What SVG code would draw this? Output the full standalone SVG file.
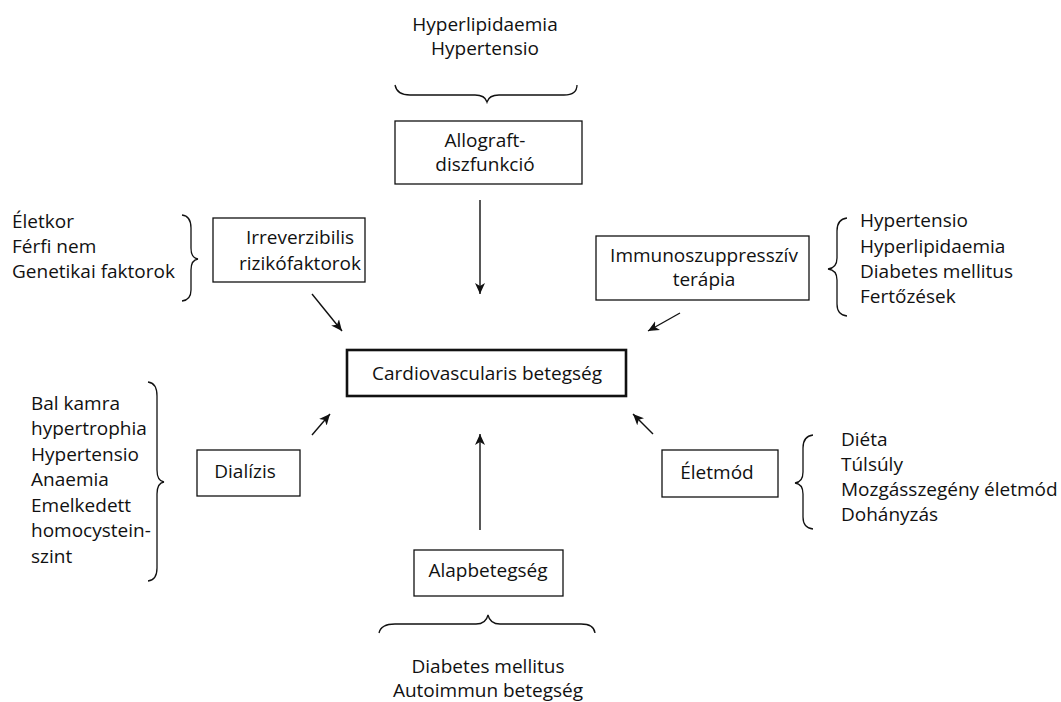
<svg xmlns="http://www.w3.org/2000/svg" width="1061" height="702" viewBox="0 0 1061 702">
<style>
text{font-family:"Open Sans","Noto Sans","Liberation Sans",sans-serif;font-size:19px;fill:#111;}
.c{text-anchor:middle;}
.box{fill:#fff;stroke:#111;stroke-width:1.3;}
.main{fill:#fff;stroke:#111;stroke-width:2.6;}
.br{fill:none;stroke:#111;stroke-width:1.3;}
.ar{fill:none;stroke:#111;stroke-width:1.4;marker-end:url(#ah);}
</style>
<defs>
<marker id="ah" markerUnits="userSpaceOnUse" markerWidth="12" markerHeight="11" refX="11" refY="5.5" orient="auto">
<path d="M0,0.5 L11,5.5 L0,10.5 L3,5.5 z" fill="#111"/>
</marker>
</defs>
<rect width="1061" height="702" fill="#fff"/>

<g id="top-factors">
<text class="c" x="485" y="31">Hyperlipidaemia</text>
<text class="c" x="485" y="55">Hypertensio</text>
<path class="br" d="M395,85 Q397,95 410,95 L475,95 Q485,95 487,102 Q489,95 499,95 L564,95 Q577,95 577,85"/>
</g>

<g id="allograft">
<rect class="box" x="395" y="121" width="187" height="63"/>
<text class="c" x="485" y="147">Allograft-</text>
<text class="c" x="485" y="171">diszfunkció</text>
</g>

<g id="irreverzibilis">
<text x="12" y="228">Életkor</text>
<text x="12" y="253">Férfi nem</text>
<text x="12" y="278">Genetikai faktorok</text>
<path class="br" d="M182,215 Q191,216 191,228 L191,248 Q191,258 198,259 Q191,260 191,270 L191,290 Q191,300 182,301"/>
<rect class="box" x="213" y="218" width="152" height="64"/>
<text class="c" x="300" y="244">Irreverzibilis</text>
<text class="c" x="300" y="270">rizikófaktorok</text>
</g>

<g id="immuno">
<rect class="box" x="596" y="236" width="213" height="64"/>
<text class="c" x="704" y="262">Immunoszuppresszív</text>
<text class="c" x="704" y="286">terápia</text>
<path class="br" d="M847,218 Q837,219 837,231 L837,258 Q837,268 828,269 Q837,270 837,280 L837,304 Q837,315 847,316"/>
<text x="860" y="227">Hypertensio</text>
<text x="860" y="252.5">Hyperlipidaemia</text>
<text x="860" y="278">Diabetes mellitus</text>
<text x="860" y="303">Fertőzések</text>
</g>

<g id="cvd">
<rect class="main" x="347" y="350" width="279" height="46"/>
<text class="c" x="487" y="380">Cardiovascularis betegség</text>
</g>

<g id="dializis">
<text x="31" y="409.5">Bal kamra</text>
<text x="31" y="435">hypertrophia</text>
<text x="31" y="460.5">Hypertensio</text>
<text x="31" y="486">Anaemia</text>
<text x="31" y="511.5">Emelkedett</text>
<text x="31" y="537">homocystein-</text>
<text x="31" y="562.5">szint</text>
<path class="br" d="M148,382 Q157,383 157,396 L157,470 Q157,481 164,482 Q157,483 157,494 L157,568 Q157,580 148,581"/>
<rect class="box" x="197" y="450" width="103" height="46"/>
<text class="c" x="245" y="478">Dialízis</text>
</g>

<g id="eletmod">
<rect class="box" x="662" y="450" width="116" height="47"/>
<text class="c" x="717" y="479">Életmód</text>
<path class="br" d="M813,435 Q803,436 803,448 L803,472 Q803,482 795,483 Q803,484 803,494 L803,517 Q803,528 813,529"/>
<text x="841" y="446">Diéta</text>
<text x="841" y="471">Túlsúly</text>
<text x="841" y="496">Mozgásszegény életmód</text>
<text x="841" y="521">Dohányzás</text>
</g>

<g id="alapbetegseg">
<rect class="box" x="414" y="550" width="149" height="46"/>
<text class="c" x="488" y="577">Alapbetegség</text>
<path class="br" d="M379,633 Q381,624 395,624 L476,624 Q486,624 488,615 Q490,624 500,624 L581,624 Q594,624 595,633"/>
<text class="c" x="488" y="673">Diabetes mellitus</text>
<text class="c" x="488" y="697">Autoimmun betegség</text>
</g>

<g id="connectors">
<line class="ar" x1="480" y1="200" x2="480" y2="294"/>
<line class="ar" x1="312" y1="294" x2="342" y2="331"/>
<line class="ar" x1="680" y1="313" x2="648" y2="331"/>
<line class="ar" x1="312" y1="435" x2="330" y2="414"/>
<line class="ar" x1="653" y1="434" x2="633" y2="414"/>
<line class="ar" x1="480" y1="530" x2="480" y2="434"/>
</g>
</svg>
